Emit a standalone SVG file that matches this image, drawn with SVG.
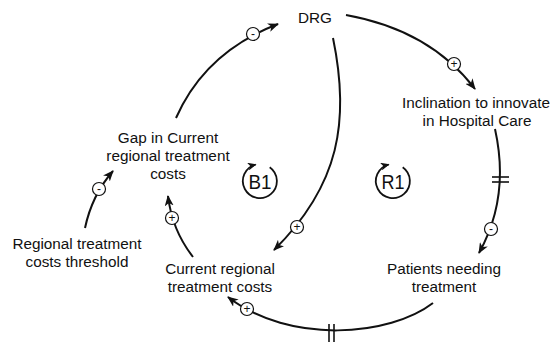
<svg xmlns="http://www.w3.org/2000/svg" width="552" height="345" viewBox="0 0 552 345">
  <style>
    .lbl { font-family: "Liberation Sans", Arial, sans-serif; font-size: 15.3px; fill: #111; text-anchor: middle; }
    .loop { font-family: "Liberation Sans", Arial, sans-serif; font-size: 21px; fill: #111; text-anchor: middle; }
    .link { fill: none; stroke: #111; stroke-width: 2; marker-end: url(#arrow); }
    .sign circle { fill: #fff; stroke: #111; stroke-width: 1.2; }
    .sign text { font-family: "Liberation Sans", Arial, sans-serif; font-size: 12px; fill: #111; text-anchor: middle; }
    .delay { stroke: #111; stroke-width: 1.6; }
    .ring { fill: none; stroke: #111; stroke-width: 1.8; marker-end: url(#arrowSmall); }
  </style>
  <defs>
    <marker id="arrow" markerUnits="userSpaceOnUse" markerWidth="11" markerHeight="9" refX="10" refY="4.5" orient="auto">
      <path d="M0,0 L11,4.5 L0,9 L3,4.5 z" fill="#111"/>
    </marker>
    <marker id="arrowSmall" markerUnits="userSpaceOnUse" markerWidth="9" markerHeight="8" refX="8" refY="4" orient="auto">
      <path d="M0,0 L9,4 L0,8 L2.5,4 z" fill="#111"/>
    </marker>
  </defs>

  <!-- causal links -->
  <g id="connectors">
    <path class="link" d="M176,118 Q205,52 278,24"/>
    <path class="link" d="M346,15 Q430,30 475,89"/>
    <path class="link" d="M495,129 C503,165 503,210 479,253"/>
    <path class="link" d="M433,303 C390,336 290,345 228,297"/>
    <path class="link" d="M193,257 Q172,230 168,196"/>
    <path class="link" d="M85,228 Q92,195 113,171"/>
    <path class="link" d="M333,38 C350,120 340,185 274,250"/>
    <!-- delay marks -->
    <line class="delay" x1="492" y1="177" x2="509" y2="177"/>
    <line class="delay" x1="492" y1="182" x2="509" y2="182"/>
    <line class="delay" x1="329" y1="324" x2="329" y2="342"/>
    <line class="delay" x1="334" y1="324" x2="334" y2="342"/>
  </g>

  <!-- polarity signs -->
  <g id="signs">
    <g class="sign"><circle cx="253" cy="34" r="6.5"/><text x="253" y="38">-</text></g>
    <g class="sign"><circle cx="454" cy="64" r="6.5"/><text x="454" y="68.3">+</text></g>
    <g class="sign"><circle cx="491" cy="229" r="6.5"/><text x="491" y="233">-</text></g>
    <g class="sign"><circle cx="247" cy="309" r="6.5"/><text x="247" y="313.3">+</text></g>
    <g class="sign"><circle cx="172" cy="218" r="6.5"/><text x="172" y="222.3">+</text></g>
    <g class="sign"><circle cx="99" cy="189" r="6.5"/><text x="99" y="193">-</text></g>
    <g class="sign"><circle cx="297" cy="227" r="6.5"/><text x="297" y="231.3">+</text></g>
  </g>

  <g id="drg"><text class="lbl" x="315" y="23">DRG</text></g>
  <g id="inclination">
    <text class="lbl" x="476" y="108">Inclination to innovate</text>
    <text class="lbl" x="477" y="126">in Hospital Care</text>
  </g>
  <g id="patients">
    <text class="lbl" x="444" y="274">Patients needing</text>
    <text class="lbl" x="444" y="292">treatment</text>
  </g>
  <g id="current-costs">
    <text class="lbl" x="220" y="274">Current regional</text>
    <text class="lbl" x="220" y="292">treatment costs</text>
  </g>
  <g id="gap">
    <text class="lbl" x="168" y="143">Gap in Current</text>
    <text class="lbl" x="168" y="161">regional treatment</text>
    <text class="lbl" x="168" y="179">costs</text>
  </g>
  <g id="threshold">
    <text class="lbl" x="77" y="249">Regional treatment</text>
    <text class="lbl" x="77" y="267">costs threshold</text>
  </g>

  <!-- loop identifiers -->
  <g id="loop-b1">
    <path class="ring" d="M269.7,167.2 A17,17 0 1 1 255.6,164.6"/>
    <text class="loop" x="260" y="188.5" textLength="23" lengthAdjust="spacingAndGlyphs">B1</text>
  </g>
  <g id="loop-r1">
    <path class="ring" d="M402.7,167.2 A17,17 0 1 1 388.6,164.6"/>
    <text class="loop" x="393" y="188.5" textLength="23" lengthAdjust="spacingAndGlyphs">R1</text>
  </g>
</svg>
